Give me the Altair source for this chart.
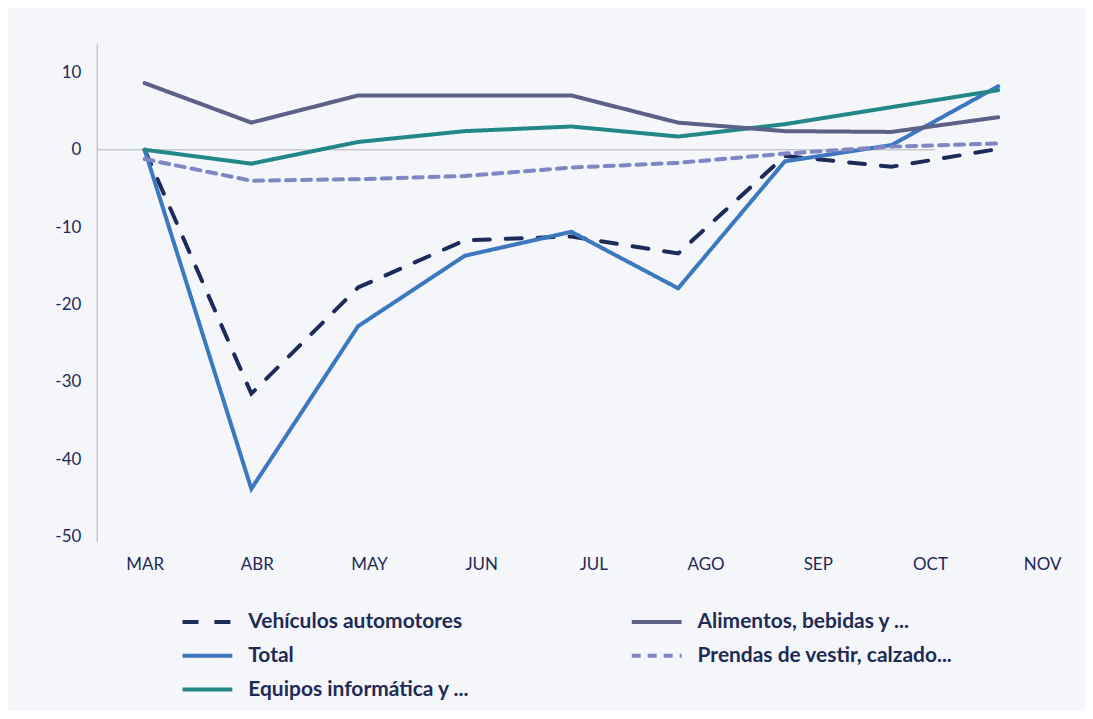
import altair as alt
import pandas as pd

months = ["MAR", "ABR", "MAY", "JUN", "JUL", "AGO", "SEP", "OCT", "NOV"]
# legend order (column-major in a 2-column legend)
series_names = [
    "Vehículos automotores",
    "Total",
    "Equipos informática y ...",
    "Alimentos, bebidas y ...",
    "Prendas de vestir, calzado...",
]
vehiculos = [0.0, -31.5, -17.8, -11.7, -11.2, -13.4, -0.8, -2.2, 0.1]
total = [0.0, -43.8, -22.8, -13.7, -10.6, -17.9, -1.5, 0.6, 8.2]
equipos = [0.0, -1.8, 1.0, 2.4, 3.0, 1.7, 3.3, 5.5, 7.7]
alimentos = [8.6, 3.5, 7.0, 7.0, 7.0, 3.5, 2.4, 2.3, 4.2]
prendas = [-1.2, -4.0, -3.8, -3.4, -2.3, -1.7, -0.5, 0.4, 0.8]
y_ticks = [-50, -40, -30, -20, -10, 0, 10]

colors = ["#1d2b5b", "#3b78c0", "#23878a", "#5c6189", "#7e86c4"]
dashes = [[16, 16], [1, 0], [1, 0], [1, 0], [9, 7]]
text_color = "#1f2a55"
FONT = "Lato"

values_by_series = [vehiculos, total, equipos, alimentos, prendas]
rows = []
for name, vals in zip(series_names, values_by_series):
    for i, v in enumerate(vals):
        rows.append({"serie": name, "idx": i, "mes": months[i], "valor": v})
df = pd.DataFrame(rows)

LABEL_STEP = 1.0514
x_domain = [-0.4486, 8.598]
label_expr = "[" + ",".join("'%s'" % m for m in months) + "][round(datum.value / %s)]" % LABEL_STEP

legend_def = alt.Legend(
    title=None,
    orient="none",
    legendX=96.5,
    legendY=566,
    columns=2,
    columnPadding=153.5,
    rowPadding=9,
    symbolType="M-2,0H2",
    symbolSize=625,
    symbolStrokeWidth=4,
    labelFont=FONT,
    labelFontSize=21,
    labelFontWeight="bold",
    labelColor=text_color,
    labelOffset=26.5,
    labelLimit=400,
)

lines = alt.Chart(df).mark_line(strokeWidth=4, strokeCap="round", strokeJoin="miter", clip=False).encode(
    x=alt.X(
        "idx:Q",
        scale=alt.Scale(domain=x_domain, nice=False, zero=False),
        axis=alt.Axis(
            title=None,
            values=[k * LABEL_STEP for k in range(len(months))],
            labelExpr=label_expr,
            grid=False,
            domain=False,
            ticks=False,
            tickSize=0,
            labelPadding=15,
            labelFont=FONT,
            labelFontSize=17,
            labelColor=text_color,
        ),
    ),
    y=alt.Y(
        "valor:Q",
        scale=alt.Scale(domain=[-50.6, 13.8], nice=False, zero=False),
        axis=alt.Axis(
            title=None,
            values=y_ticks,
            labelExpr="replace(datum.label, '\u2212', '-')",
            grid=False,
            domain=True,
            domainColor="#c8c8c8",
            domainWidth=1.5,
            ticks=False,
            tickSize=0,
            labelPadding=16,
            labelFont=FONT,
            labelFontSize=17,
            labelColor=text_color,
        ),
    ),
    color=alt.Color("serie:N", scale=alt.Scale(domain=series_names, range=colors), legend=legend_def),
    strokeDash=alt.StrokeDash("serie:N", scale=alt.Scale(domain=series_names, range=dashes), legend=legend_def),
    order=alt.Order("idx:Q"),
    detail="serie:N",
)

zero_rule = alt.Chart(pd.DataFrame({"cero": [0]})).mark_rule(color="#c8c8c8", strokeWidth=1.5).encode(
    y=alt.Y("cero:Q"),
    x=alt.value(0),
    x2=alt.value(841),
)

chart = (
    alt.layer(zero_rule, lines)
    .properties(
        width=968,
        height=500,
        padding={"left": 89, "top": 34, "right": 23, "bottom": 169},
        autosize=alt.AutoSizeParams(type="none"),
        background="#f4f6fa",
    )
    .configure_view(stroke=None)
)

chart.save("out.html", embed_options={"renderer": "svg", "actions": False})
